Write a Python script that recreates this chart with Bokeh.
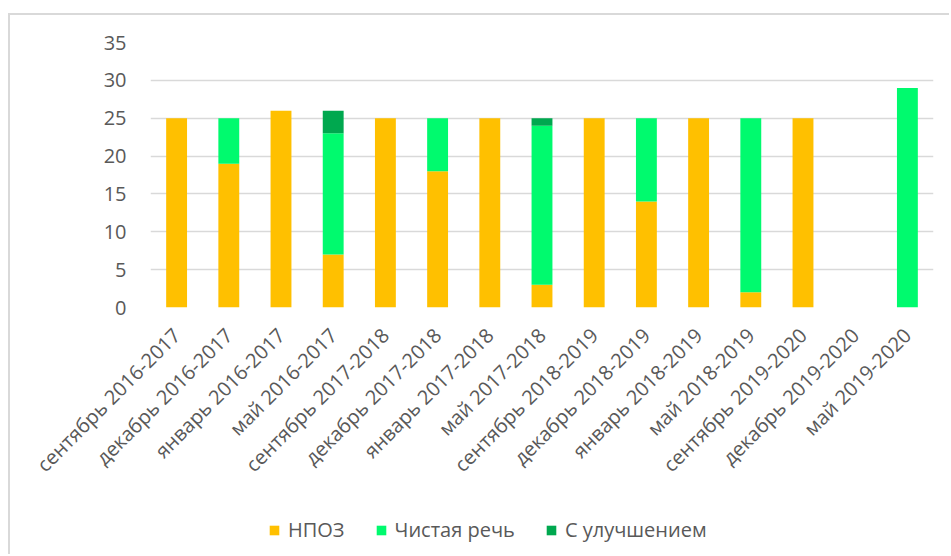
import math
from bokeh.plotting import figure
from bokeh.layouts import column
from bokeh.models import Range1d, FactorRange, SingleIntervalTicker, Legend, LegendItem, ColumnDataSource
from bokeh.embed import file_html
from bokeh.resources import INLINE

categories = [
    "сентябрь 2016-2017", "декабрь 2016-2017", "январь 2016-2017", "май 2016-2017",
    "сентябрь 2017-2018", "декабрь 2017-2018", "январь 2017-2018", "май 2017-2018",
    "сентябрь 2018-2019", "декабрь 2018-2019", "январь 2018-2019", "май 2018-2019",
    "сентябрь 2019-2020", "декабрь 2019-2020", "май 2019-2020",
]
npoz = [25, 19, 26, 7, 25, 18, 25, 3, 25, 14, 25, 2, 25, 0, 0]
clean_speech = [0, 6, 0, 16, 0, 7, 0, 21, 0, 11, 0, 23, 0, 0, 29]
improved = [0, 0, 0, 3, 0, 0, 0, 1, 0, 0, 0, 0, 0, 0, 0]
series_names = ["НПОЗ", "Чистая речь", "С улучшением"]
series_colors = ["#FFC000", "#00FA6E", "#00A84F"]

FONT = "Open Sans"
TXT = "#595959"

source = ColumnDataSource(dict(x=categories, npoz=npoz, clean=clean_speech, improved=improved))

p = figure(
    x_range=FactorRange(*categories), y_range=Range1d(0, 35),
    width=939, height=490, output_backend="svg", toolbar_location=None,
    min_border_left=140, min_border_right=16, min_border_top=27, min_border_bottom=198,
    outline_line_color=None,
)

p.vbar_stack(["npoz", "clean", "improved"], x="x", width=0.4,
             fill_color=series_colors, line_color=None, source=source)

p.xgrid.grid_line_color = None
p.ygrid.grid_line_color = "#d9d9d9"
p.ygrid.grid_line_width = 1.5
p.yaxis.ticker = SingleIntervalTicker(interval=5)

for ax in (p.xaxis[0], p.yaxis[0]):
    ax.axis_line_color = None
    ax.major_tick_line_color = None
    ax.minor_tick_line_color = None
    ax.major_label_text_font = FONT
    ax.major_label_text_font_size = "20px"
    ax.major_label_text_color = TXT

p.yaxis.major_label_standoff = 18
p.xaxis.major_label_orientation = math.pi / 4
p.xaxis.major_label_standoff = 18

# legend strip below the chart
pl = figure(
    x_range=Range1d(0, 1), y_range=Range1d(0, 1),
    width=939, height=49, output_backend="svg", toolbar_location=None,
    min_border=0, outline_line_color=None,
)
pl.xaxis.visible = False
pl.yaxis.visible = False
pl.grid.visible = False
legend_renderers = [
    pl.vbar(x=[-10], top=[-10], bottom=[-11], width=0.4, fill_color=c, line_color=None)
    for c in series_colors
]
legend = Legend(
    items=[LegendItem(label=n, renderers=[r]) for n, r in zip(series_names, legend_renderers)],
    orientation="horizontal", location=(118, 11),
    label_text_font=FONT, label_text_font_size="20px", label_text_color=TXT,
    glyph_width=12, glyph_height=12, label_standoff=8, spacing=30,
    border_line_color=None, background_fill_alpha=0, margin=0, padding=4,
)
pl.add_layout(legend, "center")

layout = column(p, pl, spacing=0)
layout.margin = (13, 0, 0, 8)
layout.styles = {"border-left": "2px solid #d9d9d9", "border-top": "2px solid #d9d9d9"}

open("out.html", "w").write(file_html(layout, INLINE))
